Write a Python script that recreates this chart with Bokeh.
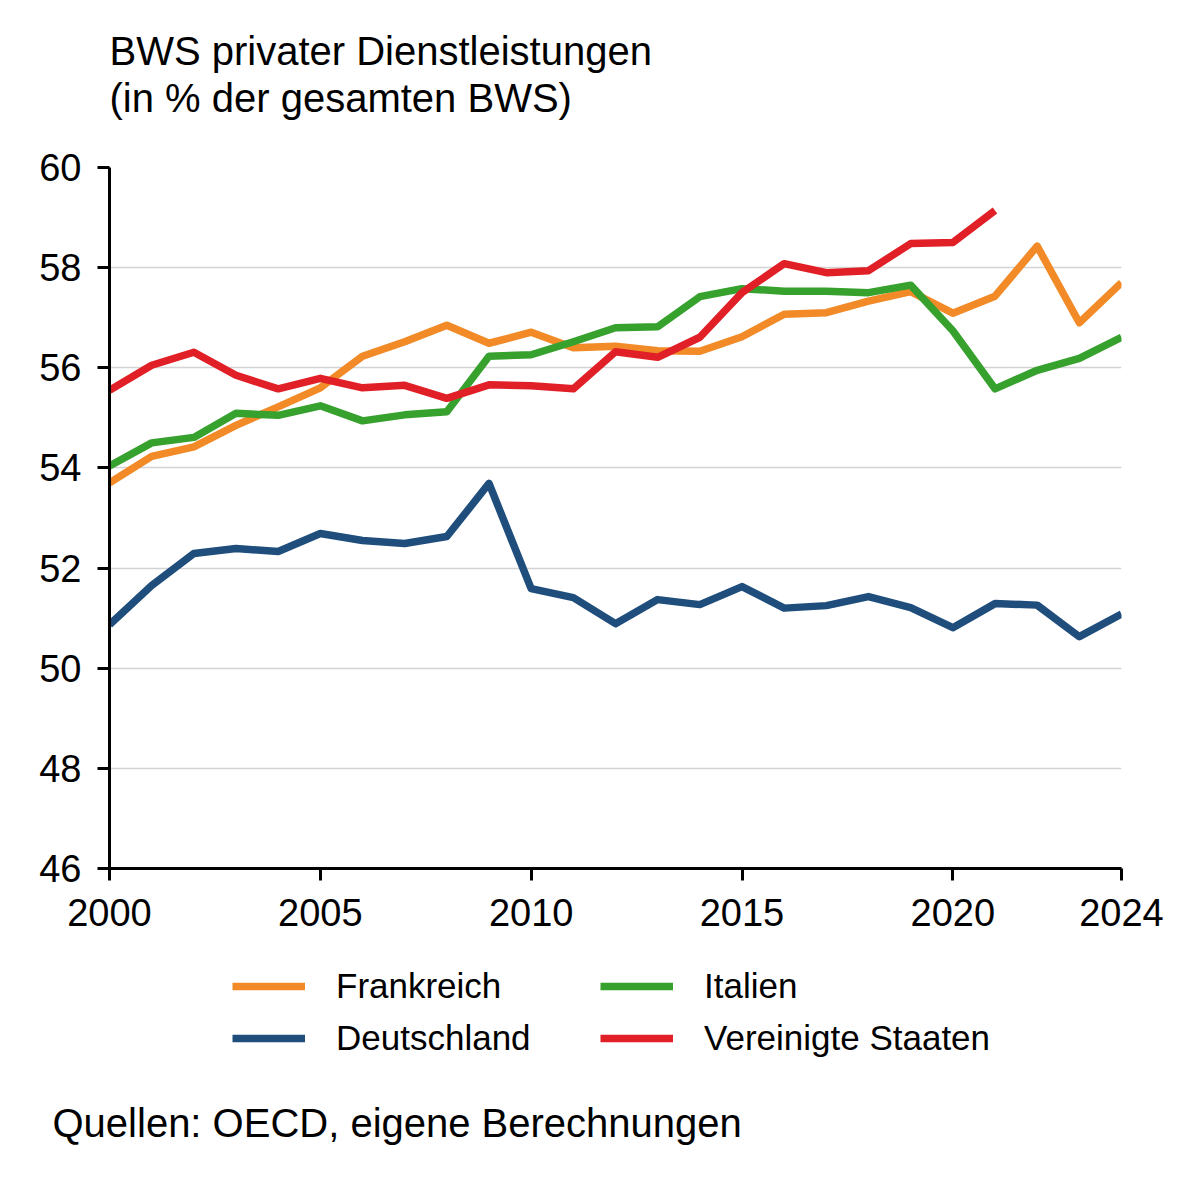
from bokeh.plotting import figure
from bokeh.layouts import column
from bokeh.models import Label, Legend, LegendItem, FixedTicker, Range1d, Title
from bokeh.embed import file_html
from bokeh.resources import INLINE

# ---------------- data ----------------
years = [2000, 2001, 2002, 2003, 2004, 2005, 2006, 2007, 2008, 2009, 2010, 2011,
         2012, 2013, 2014, 2015, 2016, 2017, 2018, 2019, 2020, 2021, 2022, 2023, 2024]
years_us = [2000, 2001, 2002, 2003, 2004, 2005, 2006, 2007, 2008, 2009, 2010, 2011,
            2012, 2013, 2014, 2015, 2016, 2017, 2018, 2019, 2020, 2021]

deutschland = [50.87, 51.65, 52.29, 52.39, 52.33, 52.69, 52.55, 52.49, 52.63, 53.69,
               51.59, 51.41, 50.89, 51.37, 51.27, 51.63, 51.20, 51.25, 51.43, 51.21,
               50.81, 51.29, 51.26, 50.63, 51.08]
frankreich = [53.70, 54.23, 54.42, 54.85, 55.22, 55.60, 56.23, 56.52, 56.85, 56.49,
              56.71, 56.40, 56.43, 56.34, 56.33, 56.62, 57.07, 57.10, 57.33, 57.52,
              57.09, 57.43, 58.43, 56.90, 57.70]
italien = [54.04, 54.50, 54.61, 55.09, 55.05, 55.24, 54.94, 55.06, 55.12, 56.23,
           56.26, 56.52, 56.80, 56.82, 57.42, 57.58, 57.53, 57.53, 57.50, 57.65,
           56.74, 55.58, 55.95, 56.19, 56.61]
usa = [55.55, 56.05, 56.31, 55.85, 55.58, 55.79, 55.60, 55.65, 55.39, 55.66,
       55.64, 55.58, 56.32, 56.21, 56.61, 57.50, 58.08, 57.90, 57.94, 58.48,
       58.50, 59.14]

y_ticks = [46, 48, 50, 52, 54, 56, 58, 60]
x_ticks = [2000, 2005, 2010, 2015, 2020, 2024]

title_lines = ["BWS privater Dienstleistungen", "(in % der gesamten BWS)"]
series_names = ["Frankreich", "Deutschland", "Italien", "Vereinigte Staaten"]
source_text = "Quellen: OECD, eigene Berechnungen"

FONT = "Liberation Sans"
C_FR = "#f18a27"
C_DE = "#1f4e7c"
C_IT = "#37a12e"
C_US = "#e11f27"
LW = 7.5

W = 1180
LEFT = 109          # frame left (all stacked figures share it)
RIGHT = W - LEFT - 1012


def blank_figure(h, **kw):
    f = figure(output_backend="svg", toolbar_location=None, width=W, height=h,
               min_border_left=LEFT, min_border_right=RIGHT,
               x_axis_location=None, y_axis_location=None,
               x_range=Range1d(0, 1), y_range=Range1d(0, 1),
               background_fill_color="white", border_fill_color="white", **kw)
    f.outline_line_color = None
    f.grid.visible = False
    f.title.visible = False
    return f


# ---------------- title figure ----------------
TOP_H = 130
SHIFT = 13  # renderer draws 'alphabetic' text this much lower than y
pt = blank_figure(TOP_H, min_border_top=0, min_border_bottom=0)
pt.add_layout(Label(x=0, y=TOP_H - 63 + SHIFT, x_units="screen", y_units="screen",
                    text=title_lines[0], text_font=FONT, text_font_size="40px",
                    text_color="black", text_baseline="alphabetic"))
pt.add_layout(Label(x=0, y=TOP_H - 110 + SHIFT, x_units="screen", y_units="screen",
                    text=title_lines[1], text_font=FONT, text_font_size="40px",
                    text_color="black", text_baseline="alphabetic"))

# ---------------- main figure ----------------
p = figure(output_backend="svg", toolbar_location=None,
           frame_width=1012, frame_height=701,
           min_border_left=LEFT, min_border_right=RIGHT,
           min_border_top=167 - TOP_H, min_border_bottom=80,
           x_range=Range1d(2000, 2024), y_range=Range1d(46, 60),
           background_fill_color="white", border_fill_color="white")
p.outline_line_color = None
p.title.visible = False

p.xgrid.visible = False
p.ygrid.ticker = FixedTicker(ticks=y_ticks)
p.ygrid.grid_line_color = "#d3d3d3"
p.ygrid.grid_line_width = 1.5

for ax in (p.xaxis[0], p.yaxis[0]):
    ax.axis_line_color = "black"
    ax.axis_line_width = 3
    ax.major_tick_line_color = "black"
    ax.major_tick_line_width = 3
    ax.major_tick_out = 12
    ax.major_tick_in = 0
    ax.minor_tick_line_color = None
    ax.major_label_text_font = FONT
    ax.major_label_text_font_size = "38px"
    ax.major_label_text_color = "black"

p.xaxis.ticker = FixedTicker(ticks=x_ticks)
p.yaxis.ticker = FixedTicker(ticks=y_ticks)
p.xaxis.major_label_standoff = 18
p.yaxis.major_label_standoff = 16

common = dict(line_width=LW, line_join="round", line_cap="butt")
p.line(years, deutschland, line_color=C_DE, **common)
p.line(years, frankreich, line_color=C_FR, **common)
p.line(years, italien, line_color=C_IT, **common)
p.line(years_us, usa, line_color=C_US, **common)

MAIN_H = 167 - TOP_H + 701 + 80

# ---------------- legend / source figure ----------------
BOT_TOP = TOP_H + MAIN_H          # 948
BOT_H = 1160 - BOT_TOP
BOT_BORDER = 70
pb = blank_figure(BOT_H, min_border_top=0, min_border_bottom=BOT_BORDER)
frame_bottom = BOT_TOP + BOT_H - BOT_BORDER

# legend keys: same series and styles, lying outside this figure's (0..1) ranges
k_fr = pb.line(years, frankreich, line_color=C_FR, line_width=LW)
k_de = pb.line(years, deutschland, line_color=C_DE, line_width=LW)
k_it = pb.line(years, italien, line_color=C_IT, line_width=LW)
k_us = pb.line(years_us, usa, line_color=C_US, line_width=LW)


def make_legend(items, vx, vy):
    return Legend(items=items, location=(vx, vy), orientation="vertical",
                  label_text_font=FONT, label_text_font_size="35px",
                  label_text_color="black",
                  glyph_width=73, glyph_height=40, label_height=40,
                  label_standoff=31, spacing=12, padding=0, margin=0,
                  border_line_color=None, background_fill_alpha=0)


leg_vy = frame_bottom - (1038 + 20)
pb.add_layout(make_legend([LegendItem(label=series_names[0], renderers=[k_fr]),
                           LegendItem(label=series_names[1], renderers=[k_de])],
                          232 - LEFT, leg_vy), "center")
pb.add_layout(make_legend([LegendItem(label=series_names[2], renderers=[k_it]),
                           LegendItem(label=series_names[3], renderers=[k_us])],
                          600 - LEFT, leg_vy), "center")

pb.add_layout(Title(text=source_text, align="left", offset=52 - LEFT, standoff=16,
                    text_font=FONT, text_font_size="40px", text_font_style="normal",
                    text_color="black"), "below")

layout = column(pt, p, pb, spacing=0)
open("out.html", "w").write(file_html(layout, INLINE))
